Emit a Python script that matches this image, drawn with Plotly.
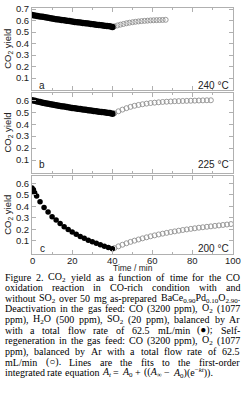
import re
import plotly.graph_objects as go
from plotly.subplots import make_subplots

# ---------------- data ----------------
t_a_fill = [0, 1.33, 2.67, 4, 5.33, 6.67, 8, 9.33, 10.67, 12, 13.33, 14.67, 16, 17.33, 18.67, 20,
            21.33, 22.67, 24, 25.33, 26.67, 28, 29.33, 30.67, 32, 33.33, 34.67, 36, 37.33, 38.67, 40]
y_a_fill = [0.650, 0.645, 0.641, 0.637, 0.633, 0.629, 0.625, 0.621, 0.617, 0.613, 0.610, 0.606,
            0.603, 0.599, 0.596, 0.593, 0.589, 0.586, 0.583, 0.580, 0.577, 0.574, 0.571, 0.568,
            0.565, 0.562, 0.559, 0.556, 0.553, 0.550, 0.545]
t_a_open = [41, 42.5, 44, 45.5, 47, 48.5, 50, 51.5, 53, 54.5, 56, 57.5, 59, 60.5, 62, 63.5, 65, 66.5]
y_a_open = [0.550, 0.558, 0.565, 0.571, 0.577, 0.582, 0.586, 0.590, 0.593, 0.596, 0.598, 0.600,
            0.602, 0.603, 0.604, 0.605, 0.606, 0.607]

t_b_fill = t_a_fill
y_b_fill = [0.600, 0.595, 0.590, 0.585, 0.580, 0.575, 0.571, 0.567, 0.563, 0.559, 0.555, 0.551,
            0.547, 0.543, 0.540, 0.536, 0.533, 0.529, 0.526, 0.523, 0.520, 0.517, 0.514, 0.511,
            0.508, 0.505, 0.502, 0.499, 0.496, 0.493, 0.488]
t_b_open = [41, 43, 45, 47, 49, 51, 53, 55, 57, 59, 61, 63, 65, 67, 69, 71, 73, 75, 77, 79, 81,
            83, 85, 87, 89]
y_b_open = [0.492, 0.508, 0.522, 0.534, 0.545, 0.554, 0.561, 0.567, 0.572, 0.577, 0.580, 0.583,
            0.586, 0.588, 0.590, 0.592, 0.593, 0.594, 0.595, 0.596, 0.597, 0.598, 0.599, 0.600, 0.600]

t_c_fill = [0, 0.7, 1.3, 2.3, 4, 6, 8, 10, 12, 14, 16, 18, 20, 22, 24, 26, 28, 30, 32, 34, 36, 38, 40]
y_c_fill = [0.560, 0.545, 0.520, 0.490, 0.440, 0.390, 0.350, 0.310, 0.280, 0.250, 0.222, 0.197,
            0.176, 0.156, 0.137, 0.120, 0.104, 0.090, 0.076, 0.063, 0.051, 0.040, 0.030]
t_c_open = [41, 43, 45, 47, 49, 51, 53, 55, 57, 59, 61, 63, 65, 67, 69, 71, 73, 75, 77, 79, 81,
            83, 85, 87, 89, 91, 93, 95, 97, 99]
y_c_open = [0.035, 0.050, 0.064, 0.077, 0.089, 0.100, 0.110, 0.120, 0.129, 0.138, 0.146, 0.154,
            0.161, 0.168, 0.175, 0.181, 0.187, 0.193, 0.198, 0.203, 0.208, 0.213, 0.217, 0.221,
            0.225, 0.229, 0.233, 0.237, 0.241, 0.245]

panel_letters = ["a", "b", "c"]
panel_temps = ["240 °C", "225 °C", "200 °C"]
y_ticks = [0.1, 0.2, 0.3, 0.4, 0.5, 0.6, 0.7]
x_ticks = [0, 20, 40, 60, 80, 100]

caption = [
    "Figure 2. CO<sub>2</sub> yield as a function of time for the CO",
    "oxidation reaction in CO-rich condition with and",
    "without SO<sub>2</sub> over 50 mg as-prepared BaCe<sub>0.90</sub>Pd<sub>0.10</sub>O<sub>2.90</sub>.",
    "Deactivation in the gas feed: CO (3200 ppm), O<sub>2</sub> (1077",
    "ppm), H<sub>2</sub>O (500 ppm), SO<sub>2</sub> (20 ppm), balanced by Ar",
    "with a total flow rate of 62.5 mL/min (\u25cf); Self-",
    "regeneration in the gas feed: CO (3200 ppm), O<sub>2</sub> (1077",
    "ppm), balanced by Ar with a total flow rate of 62.5",
    "mL/min (\u25cb). Lines are the fits to the first-order",
    "integrated rate equation <i>A<sub>t</sub></i> = <i>A</i><sub>0</sub> + ((<i>A</i><sub>\u221e</sub> \u2212 <i>A</i><sub>0</sub>)(e<sup>\u2212<i>kt</i></sup>)).",
]

# ---------------- layout helpers ----------------
W, H = 245, 398
L, R, T, B = 32, 12, 8, 144
PW, PH = W - L - R, H - T - B


def xp(px):
    return (px - L) / PW


def yp(py):
    return (H - B - py) / PH


# Times (Liberation Serif) advance widths, per 1000 em
TW = {' ': 250, '!': 333, '(': 333, ')': 333, '+': 564, ',': 250, '-': 333, '.': 250, '/': 278,
      ':': 278, ';': 278, '=': 564, '\u2212': 564, '\u221e': 713, '\u25cf': 604, '\u25cb': 604}
for ch in '0123456789':
    TW[ch] = 500
TW.update(dict(A=722, B=667, C=667, D=722, E=611, F=556, G=722, H=722, I=333, J=389, K=722,
               L=611, M=889, N=722, O=722, P=556, Q=722, R=667, S=556, T=611, U=722, V=722,
               W=944, X=722, Y=722, Z=611))
TW.update(dict(a=444, b=500, c=444, d=500, e=444, f=333, g=500, h=500, i=278, j=278, k=500,
               l=278, m=778, n=500, o=500, p=500, q=500, r=333, s=389, t=278, u=500, v=500,
               w=722, x=500, y=500, z=444))


def word_width(word, size):
    total = 0.0
    scale = 1.0
    for tok in re.split(r'(<[^>]+>)', word):
        if tok.startswith('<'):
            if tok in ('<sub>', '<sup>'):
                scale = 0.7
            elif tok in ('</sub>', '</sup>'):
                scale = 1.0
            continue
        for ch in tok:
            total += TW.get(ch, 500) * scale
    return total * size / 1000.0


fig = make_subplots(rows=3, cols=1, shared_xaxes=False)

domains = [[yp(89.5), 1.0], [yp(172.5), yp(92.5)], [0.0, yp(175.5)]]
yranges = [[0, 0.71], [-0.004, 0.665], [-0.017, 0.67]]

series = [
    (t_a_fill, y_a_fill, t_a_open, y_a_open, 6.5),
    (t_b_fill, y_b_fill, t_b_open, y_b_open, 6.5),
    (t_c_fill, y_c_fill, t_c_open, y_c_open, 5.5),
]

for i, (tf, yf, to, yo, ms) in enumerate(series):
    r = i + 1
    fig.add_trace(go.Scatter(x=to, y=yo, mode="markers",
                             marker=dict(symbol="circle-open", size=5, color="#909090",
                                         line=dict(width=0.9, color="#909090")),
                             showlegend=False), row=r, col=1)
    fig.add_trace(go.Scatter(x=tf, y=yf, mode="markers",
                             marker=dict(symbol="circle", size=ms, color="black"),
                             showlegend=False), row=r, col=1)

axis_common = dict(showline=True, linecolor="#b0b0b0", linewidth=1, mirror="ticks",
                   ticks="inside", ticklen=4, tickcolor="#b0b0b0", showgrid=False,
                   zeroline=False, automargin=False,
                   tickfont=dict(family="Liberation Sans", size=9.5, color="#222"))

for i in range(3):
    r = i + 1
    fig.update_xaxes(range=[0, 100], tickvals=x_ticks, showticklabels=False,
                     minor=dict(ticks="inside", ticklen=2, tickcolor="#b0b0b0", dtick=10, tick0=0),
                     row=r, col=1, **axis_common)
    fig.update_yaxes(range=yranges[i], tickvals=y_ticks, ticktext=[f"{v:.1f}" for v in y_ticks],
                     domain=domains[i], row=r, col=1, **axis_common)
    fig.update_yaxes(title=dict(text="CO<sub>2</sub> yield", standoff=2,
                                font=dict(family="Liberation Sans", size=9.5, color="#222")),
                     row=r, col=1)

ann = []
# bottom x tick labels and title
for v in x_ticks:
    ann.append(dict(x=v, xref="x3", y=yp(260), yref="paper", text=str(v), showarrow=False,
                    xanchor="center", yanchor="middle", borderpad=0,
                    font=dict(family="Liberation Sans", size=9.5, color="#222")))
ann.append(dict(x=50, xref="x3", y=yp(267.5), yref="paper", text="Time / min", showarrow=False,
                xanchor="center", yanchor="middle", borderpad=0,
                font=dict(family="Liberation Sans", size=8.5, color="#222")))

letter_y = [85, 164, 248]
for i in range(3):
    ann.append(dict(x=xp(42), y=yp(letter_y[i]), xref="paper", yref="paper",
                    text=panel_letters[i], showarrow=False, xanchor="center", yanchor="middle",
                    font=dict(family="Liberation Sans", size=10, color="#222")))
    ann.append(dict(x=xp(231), y=yp(letter_y[i]), xref="paper", yref="paper",
                    text=panel_temps[i], showarrow=False, xanchor="right", yanchor="middle",
                    font=dict(family="Liberation Sans", size=10, color="#222")))

# justified caption, word by word (first word left-anchored, last right-anchored, others centred)
CAP_SIZE = 10
X0, X1 = 5, 240
for k, line in enumerate(caption):
    words = line.split(" ")
    widths = [word_width(w, CAP_SIZE) for w in words]
    last = k == len(caption) - 1
    if not last and len(words) > 1:
        gap = max((X1 - X0 - sum(widths)) / (len(words) - 1), 1.0)
    else:
        gap = 0.25 * CAP_SIZE
    x = X0
    for j, (w, wd) in enumerate(zip(words, widths)):
        if j == 0:
            xa, xpos = "left", x
        elif j == len(words) - 1 and not last:
            xa, xpos = "right", X1
        else:
            xa, xpos = "center", x + wd / 2
        ann.append(dict(x=xp(xpos), y=yp(277 + 10.65 * k), xref="paper", yref="paper",
                        text=w, showarrow=False, xanchor=xa, yanchor="middle", borderpad=0,
                        borderwidth=0,
                        font=dict(family="Liberation Serif", size=CAP_SIZE, color="black")))
        x += wd + gap

fig.update_layout(width=W, height=H, margin=dict(l=L, r=R, t=T, b=B, autoexpand=False),
                  plot_bgcolor="white", paper_bgcolor="white", annotations=ann)

fig.write_html("out.html", config={"displayModeBar": False},
               post_script="document.body.style.margin='0';document.body.style.overflow='hidden';")
